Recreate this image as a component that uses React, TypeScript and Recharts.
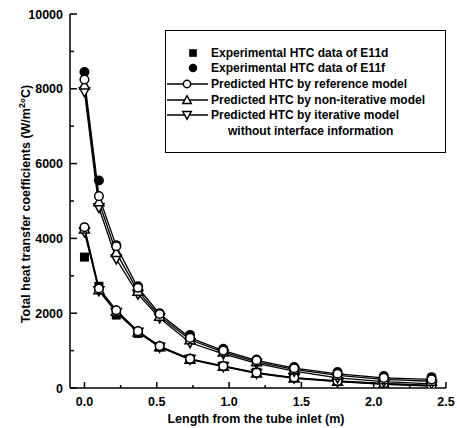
import React from "react";
import { LineChart, Line, XAxis, YAxis, Legend, Label } from "recharts";

// tube positions (m)
const lengthM = [0, 0.1, 0.22, 0.37, 0.52, 0.73, 0.96, 1.19, 1.45, 1.75, 2.07, 2.4];

// E11f (upper group)
const e11fExp = [8450, 5550, 3820, 2720, 2000, 1420, 1050, 760, 560, 430, 320, 290];
const e11fRef = [8250, 5130, 3790, 2680, 1980, 1340, 1000, 740, 530, 380, 270, 230];
const e11fNonIter = [8100, 4980, 3620, 2590, 1920, 1290, 960, 700, 500, 340, 230, 180];
const e11fIter = [7920, 4820, 3450, 2510, 1870, 1210, 910, 660, 450, 270, 170, 110];

// E11d (lower group)
const e11dExp = [3500, 2720, 1950, 1460, 1100, 780, 590, 420, 290, 200, 130, 80];
const e11dRef = [4300, 2660, 2080, 1520, 1120, 780, 590, 410, 280, 190, 120, 70];
const e11dNonIter = [4250, 2630, 2050, 1500, 1100, 770, 580, 400, 270, 180, 110, 60];
const e11dIter = [4170, 2600, 2020, 1490, 1090, 760, 570, 390, 260, 170, 100, 50];

const xTicks = [0, 0.25, 0.5, 0.75, 1, 1.25, 1.5, 1.75, 2, 2.25, 2.5];
const xMajor = [0, 0.5, 1, 1.5, 2, 2.5];
const yTicks = [0, 1000, 2000, 3000, 4000, 5000, 6000, 7000, 8000, 9000, 10000];
const yMajor = [0, 2000, 4000, 6000, 8000, 10000];

type MarkerKind = "square" | "disc" | "circle" | "up" | "down";

const legendItems: { kind: MarkerKind; line: boolean; text: string[] }[] = [
  { kind: "square", line: false, text: ["Experimental HTC data of E11d"] },
  { kind: "disc", line: false, text: ["Experimental HTC data of E11f"] },
  { kind: "circle", line: true, text: ["Predicted HTC by reference model"] },
  { kind: "up", line: true, text: ["Predicted HTC by non-iterative model"] },
  { kind: "down", line: true, text: ["Predicted HTC by iterative model", "without interface information"] },
];

const data = lengthM.map((x, i) => ({
  x,
  e11fExp: e11fExp[i],
  e11fRef: e11fRef[i],
  e11fNonIter: e11fNonIter[i],
  e11fIter: e11fIter[i],
  e11dExp: e11dExp[i],
  e11dRef: e11dRef[i],
  e11dNonIter: e11dNonIter[i],
  e11dIter: e11dIter[i],
}));

const FONT = "'Liberation Sans', Arial, sans-serif";

function Marker({ kind, cx, cy, s = 1 }: { kind: MarkerKind; cx: number; cy: number; s?: number }) {
  const sw = 1.5;
  switch (kind) {
    case "square":
      return <rect x={cx - 4.5 * s} y={cy - 4.5 * s} width={9 * s} height={9 * s} fill="#000" />;
    case "disc":
      return <circle cx={cx} cy={cy} r={5 * s} fill="#000" />;
    case "circle":
      return <circle cx={cx} cy={cy} r={4.3 * s} fill="#fff" stroke="#000" strokeWidth={sw} />;
    case "up":
      return (
        <polygon
          points={`${cx},${cy - 5 * s} ${cx + 5 * s},${cy + 4 * s} ${cx - 5 * s},${cy + 4 * s}`}
          fill="#fff"
          stroke="#000"
          strokeWidth={sw}
        />
      );
    default:
      return (
        <polygon
          points={`${cx - 5 * s},${cy - 4 * s} ${cx + 5 * s},${cy - 4 * s} ${cx},${cy + 5 * s}`}
          fill="#fff"
          stroke="#000"
          strokeWidth={sw}
        />
      );
  }
}

const makeDot = (kind: MarkerKind, id: string) => (p: any) =>
  <Marker key={`${id}-${p.index}`} kind={kind} cx={p.cx} cy={p.cy} />;

const BottomTick = (p: any) => {
  const v = p.payload.value;
  const major = xMajor.includes(v);
  return (
    <g>
      <line x1={p.x} x2={p.x} y1={p.y} y2={p.y - (major ? 6 : 3)} stroke="#000" strokeWidth={1.5} />
      {major && (
        <text x={p.x} y={p.y + 18} textAnchor="middle" fontSize={12.5} fontWeight="bold" fontFamily={FONT} fill="#000">
          {v.toFixed(1)}
        </text>
      )}
    </g>
  );
};

const TopTick = (p: any) => {
  const major = xMajor.includes(p.payload.value);
  return <line x1={p.x} x2={p.x} y1={p.y} y2={p.y + (major ? 6 : 3)} stroke="#000" strokeWidth={1.5} />;
};

const LeftTick = (p: any) => {
  const v = p.payload.value;
  const major = yMajor.includes(v);
  return (
    <g>
      <line x1={p.x} x2={p.x + (major ? 7 : 4)} y1={p.y} y2={p.y} stroke="#000" strokeWidth={1.5} />
      {major && (
        <text x={p.x - 7} y={p.y + 4.5} textAnchor="end" fontSize={12.5} fontWeight="bold" fontFamily={FONT} fill="#000">
          {v}
        </text>
      )}
    </g>
  );
};

const RightTick = (p: any) => {
  const major = yMajor.includes(p.payload.value);
  return <line x1={p.x} x2={p.x - (major ? 7 : 4)} y1={p.y} y2={p.y} stroke="#000" strokeWidth={1.5} />;
};

const YTitle = (p: any) => {
  const vb = p.viewBox;
  const cx = vb.x + 25;
  const cy = vb.y + vb.height / 2 + 3;
  return (
    <text
      transform={`rotate(-90 ${cx} ${cy})`}
      x={cx}
      y={cy + 4.5}
      textAnchor="middle"
      fontSize={12.5}
      fontWeight="bold"
      fontFamily={FONT}
      fill="#000"
    >
      Total heat transfer coefficients (W/m
      <tspan dy={-5} fontSize={9}>2</tspan>
      <tspan dy={5}>°C)</tspan>
    </text>
  );
};

const XTitle = (p: any) => {
  const vb = p.viewBox;
  return (
    <text
      x={vb.x + vb.width / 2 - 2}
      y={vb.y + 35}
      textAnchor="middle"
      fontSize={12.5}
      fontWeight="bold"
      fontFamily={FONT}
      fill="#000"
    >
      Length from the tube inlet (m)
    </text>
  );
};

const LegendBox = () => (
  <div
    style={{
      width: 281,
      height: 123,
      boxSizing: "border-box",
      border: "1.5px solid #000",
      background: "#fff",
      paddingTop: 14,
      fontFamily: FONT,
      fontSize: 12,
      fontWeight: "bold",
      color: "#000",
    }}
  >
    {legendItems.map((it) =>
      it.text.map((t, j) => (
        <div key={t} style={{ display: "flex", alignItems: "center", height: 15.6, whiteSpace: "nowrap" }}>
          <svg width={45} height={14} style={{ flex: "none" }}>
            {j === 0 && it.line && <line x1={1} x2={42} y1={7} y2={7} stroke="#000" strokeWidth={1.5} />}
            {j === 0 && <Marker kind={it.kind} cx={it.line ? 21 : 27} cy={7} s={0.85} />}
          </svg>
          <span style={{ marginLeft: j === 0 ? 0 : 17 }}>{t}</span>
        </div>
      ))
    )}
  </div>
);

const lineProps = {
  type: "linear" as const,
  stroke: "#000",
  strokeWidth: 1.3,
  isAnimationActive: false,
  activeDot: false as const,
};

export default function App() {
  return (
    <div style={{ position: "absolute", left: 0, top: 0, width: 457, height: 428, background: "#fff" }}>
      <LineChart width={457} height={428} data={data} margin={{ top: 14, right: 11, bottom: 0, left: 0 }}>
        <XAxis
          dataKey="x"
          type="number"
          domain={[-0.1, 2.5]}
          ticks={xTicks}
          interval={0}
          allowDataOverflow
          height={40}
          axisLine={{ stroke: "#000", strokeWidth: 1.5 }}
          tickLine={false}
          tickSize={0}
          tickMargin={0}
          tick={<BottomTick />}
        >
          <Label content={<XTitle />} />
        </XAxis>
        <XAxis
          xAxisId="top"
          orientation="top"
          dataKey="x"
          type="number"
          domain={[-0.1, 2.5]}
          ticks={xTicks}
          interval={0}
          allowDataOverflow
          height={0}
          axisLine={{ stroke: "#000", strokeWidth: 1.5 }}
          tickLine={false}
          tickSize={0}
          tickMargin={0}
          tick={<TopTick />}
        />
        <YAxis
          type="number"
          domain={[0, 10000]}
          ticks={yTicks}
          interval={0}
          allowDataOverflow
          width={70}
          axisLine={{ stroke: "#000", strokeWidth: 1.5 }}
          tickLine={false}
          tickSize={0}
          tickMargin={0}
          tick={<LeftTick />}
        >
          <Label content={<YTitle />} />
        </YAxis>
        <YAxis
          yAxisId="right"
          orientation="right"
          type="number"
          domain={[0, 10000]}
          ticks={yTicks}
          interval={0}
          allowDataOverflow
          width={0}
          axisLine={{ stroke: "#000", strokeWidth: 1.5 }}
          tickLine={false}
          tickSize={0}
          tickMargin={0}
          tick={<RightTick />}
        />
        <Legend
          layout="vertical"
          align="center"
          verticalAlign="middle"
          wrapperStyle={{ left: 165, top: 30, width: 281 }}
          content={<LegendBox />}
        />
        <Line {...lineProps} dataKey="e11dExp" stroke="none" dot={makeDot("square", "dExp")} />
        <Line {...lineProps} dataKey="e11dIter" dot={makeDot("down", "dIter")} />
        <Line {...lineProps} dataKey="e11dNonIter" dot={makeDot("up", "dNon")} />
        <Line {...lineProps} dataKey="e11dRef" dot={makeDot("circle", "dRef")} />
        <Line {...lineProps} dataKey="e11fExp" stroke="none" dot={makeDot("disc", "fExp")} />
        <Line {...lineProps} dataKey="e11fIter" dot={makeDot("down", "fIter")} />
        <Line {...lineProps} dataKey="e11fNonIter" dot={makeDot("up", "fNon")} />
        <Line {...lineProps} dataKey="e11fRef" dot={makeDot("circle", "fRef")} />
      </LineChart>
    </div>
  );
}
